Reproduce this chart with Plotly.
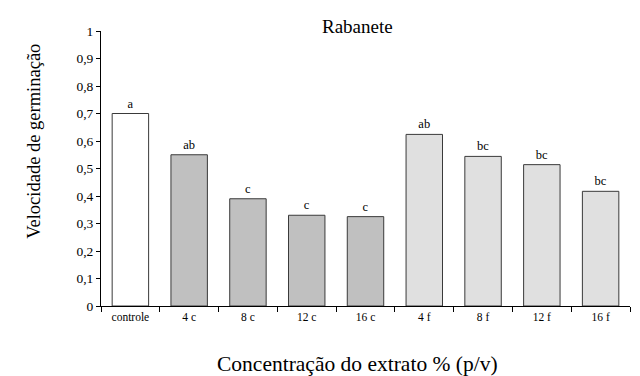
import plotly.graph_objects as go

categories = ["controle", "4 c", "8 c", "12 c", "16 c", "4 f", "8 f", "12 f", "16 f"]
values = [0.70, 0.55, 0.39, 0.33, 0.325, 0.624, 0.544, 0.514, 0.417]
letters = ["a", "ab", "c", "c", "c", "ab", "bc", "bc", "bc"]
colors = ["#FFFFFF"] + ["#C0C0C0"] * 4 + ["#E0E0E0"] * 4
y_ticks = [0, 0.1, 0.2, 0.3, 0.4, 0.5, 0.6, 0.7, 0.8, 0.9, 1]
y_tick_labels = ["0", "0,1", "0,2", "0,3", "0,4", "0,5", "0,6", "0,7", "0,8", "0,9", "1"]

FONT = "Liberation Serif, Times New Roman, Liberation Sans, Arial, sans-serif"

fig = go.Figure()
fig.add_trace(go.Bar(
    x=categories, y=values,
    marker=dict(color=colors, line=dict(color="#3a3a3a", width=1)),
    width=0.62,
    text=letters, textposition="outside",
    textfont=dict(family=FONT, size=12.5, color="black"),
    cliponaxis=False,
))

fig.update_layout(
    width=632, height=368,
    margin=dict(l=93, r=10, t=23, b=70),
    paper_bgcolor="white", plot_bgcolor="white",
    showlegend=False,
    font=dict(family=FONT, color="black"),
    xaxis=dict(
        showline=True, linecolor="black", linewidth=1,
        ticks="outside", tickson="boundaries", ticklen=5, tickcolor="black",
        tickfont=dict(family=FONT, size=11.5, color="black"),
        showgrid=False, zeroline=False,
    ),
    yaxis=dict(
        range=[0, 1], tickvals=y_ticks, ticktext=y_tick_labels,
        showline=True, linecolor="black", linewidth=1,
        ticks="outside", ticklen=4, tickcolor="black",
        tickfont=dict(family=FONT, size=13.5, color="black"),
        showgrid=False, zeroline=False,
    ),
    annotations=[
        dict(text="Rabanete", x=0.485, y=1, xref="paper", yref="paper",
             yshift=5, yanchor="middle", showarrow=False,
             font=dict(family=FONT, size=19, color="black")),
        dict(text="Velocidade de germinação", x=0, y=0.597, xref="paper", yref="paper",
             xshift=-79, textangle=-90, showarrow=False,
             font=dict(family=FONT, size=18.5, color="black")),
        dict(text="Concentração do extrato % (p/v)", x=0.485, y=0, xref="paper", yref="paper",
             yshift=-58, yanchor="middle", showarrow=False,
             font=dict(family=FONT, size=21.5, color="black")),
    ],
)

fig.write_html("out.html")
